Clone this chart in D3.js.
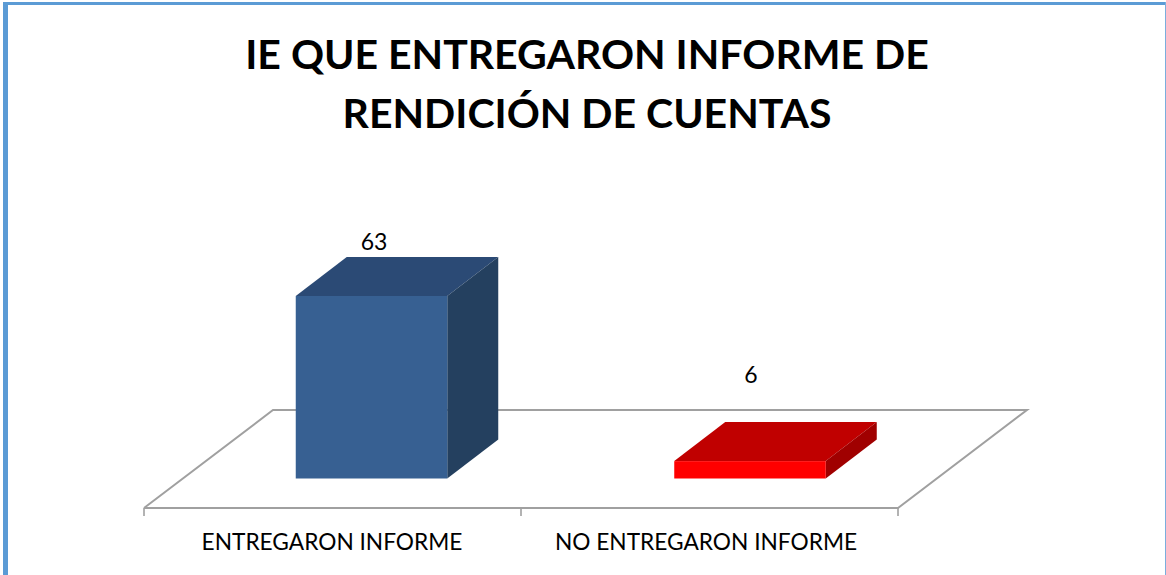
<!DOCTYPE html>
<html><head><meta charset="utf-8">
<script src="https://cdn.jsdelivr.net/npm/d3@7/dist/d3.min.js"></script>
<style>html,body{margin:0;padding:0;background:#fff;overflow:hidden}svg{display:block}text{font-family:Lato,"Open Sans",sans-serif;fill:#000}</style>
</head><body><div id="c"></div>
<script>
const titleLines = ["IE QUE ENTREGARON INFORME DE", "RENDICIÓN DE CUENTAS"];
const categories = ["ENTREGARON INFORME", "NO ENTREGARON INFORME"];
const values = [63, 6];
const frontColors = ["#376092", "#ff0000"];
const topColors = ["#2b4a75", "#c00000"];
const sideColors = ["#24405f", "#a00000"];

const W = 1166, H = 575;
const svg = d3.select("#c").append("svg").attr("width", W).attr("height", H);

// page frame
svg.append("rect").attr("x",3).attr("y",2).attr("width",W).attr("height",3).attr("fill","#5b9bd5");
svg.append("rect").attr("x",3).attr("y",2).attr("width",5).attr("height",H).attr("fill","#5b9bd5");
svg.append("rect").attr("x",W-1).attr("y",2).attr("width",1).attr("height",H).attr("fill","#7aaedd");

// title
svg.selectAll("text.title").data(titleLines).join("text").attr("class","title")
  .attr("x",587).attr("y",(d,i)=>69+i*59).attr("text-anchor","middle")
  .attr("font-size",41).attr("font-weight",700).text(d=>d);

// scales
const x = d3.scaleBand().domain(categories).range([144,898]);       // floor front edge
const xBar = d3.scaleBand().domain(categories).range([182.25,939.25]); // bars, set back on the floor
const y = d3.scaleLinear().domain([0,63]).range([478.5,296]);
const floorDx = 129, floorDy = -98;   // floor depth projection
const barDx = 51, barDy = -39;        // bar depth projection
const barW = 151.5;

// floor
const fy = 508;
const [x0,x1] = x.range();
const line = d3.line();
svg.append("path").attr("d", line([[x0,fy],[x0+floorDx,fy+floorDy],[x1+floorDx,fy+floorDy],[x1,fy],[x0,fy]]))
  .attr("fill","#fff").attr("stroke","#a0a0a0").attr("stroke-width",2);
const ticks = [x0, ...categories.map(c=>x(c)+x.bandwidth())];
svg.selectAll("line.tick").data(ticks).join("line").attr("class","tick")
  .attr("x1",d=>d).attr("x2",d=>d).attr("y1",fy).attr("y2",fy+8)
  .attr("stroke","#a0a0a0").attr("stroke-width",1.6);

// bars
const bars = svg.selectAll("g.bar").data(categories).join("g").attr("class","bar");
const xl = c => xBar(c)+xBar.bandwidth()/2-barW/2;
bars.each(function(c,i){
  const g = d3.select(this), l = xl(c), r = l+barW, b = y(0), t = y(values[i]);
  g.append("path").attr("d",line([[l,t],[l+barDx,t+barDy],[r+barDx,t+barDy],[r,t]])+"Z").attr("fill",topColors[i]);
  g.append("path").attr("d",line([[r,t],[r+barDx,t+barDy],[r+barDx,b+barDy],[r,b]])+"Z").attr("fill",sideColors[i]);
  g.append("rect").attr("x",l).attr("y",t).attr("width",barW).attr("height",b-t).attr("fill",frontColors[i]);
});

// value labels
const labelY = [250, 383];
svg.selectAll("text.val").data(values).join("text").attr("class","val")
  .attr("x",(d,i)=>[374,751][i]).attr("y",(d,i)=>labelY[i]).attr("text-anchor","middle")
  .attr("font-size",23).text(d=>d);

// category labels
const catX = [332, 706];
svg.selectAll("text.cat").data(categories).join("text").attr("class","cat")
  .attr("x",(c,i)=>catX[i]).attr("y",550).attr("text-anchor","middle")
  .attr("font-size",22.7).text(d=>d);
</script></body></html>
